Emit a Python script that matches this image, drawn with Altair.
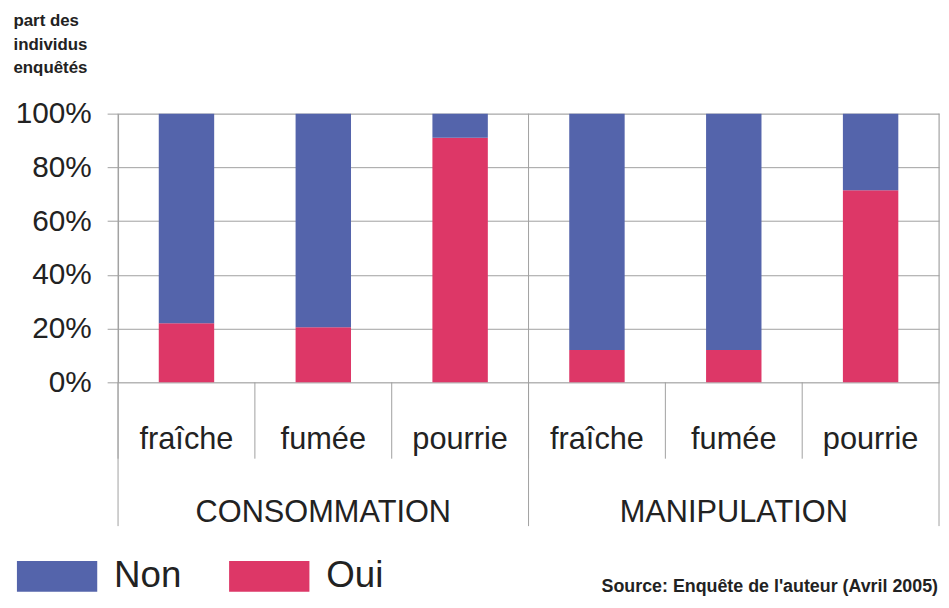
import altair as alt
import pandas as pd

# ---- data ----
groups = ["CONSOMMATION", "MANIPULATION"]
states = ["fraîche", "fumée", "pourrie"]
oui_pct = [22, 20.5, 91, 12, 12, 71.5]
non_pct = [78, 79.5, 9, 88, 88, 28.5]
answers = ["Non", "Oui"]
colors = ["#5464AB", "#DD3767"]
y_ticks = [0, 20, 40, 60, 80, 100]
y_title = ["part des", "individus", "enquêtés"]
source_note = "Source: Enquête de l'auteur (Avril 2005)"

FONT = "Liberation Sans"
TXT = "#222222"
GRID = "#a0a0a0"

keys = [f"{g}|{s}" for g in groups for s in states]
rows = []
for k, o, n in zip(keys, oui_pct, non_pct):
    rows.append({"key": k, "answer": "Oui", "value": o, "ord": 0})
    rows.append({"key": k, "answer": "Non", "value": n, "ord": 1})
df = pd.DataFrame(rows)

W, H = 828, 271
xscale = alt.Scale(domain=keys, paddingInner=0, paddingOuter=0)
x_axis = alt.Axis(
    labelExpr="split(datum.value, '|')[1]", labelAngle=0,
    labelFontSize=31, labelFont=FONT, labelColor=TXT,
    ticks=False, domain=False, labelPadding=58,
    labelBaseline="middle", title=None,
)

bars = alt.Chart(df).mark_bar(width=alt.RelativeBandSize(0.405)).encode(
    x=alt.X("key:N", scale=xscale, sort=keys, axis=x_axis),
    y=alt.Y(
        "value:Q", stack="zero",
        scale=alt.Scale(domain=[0, 100], nice=False),
        axis=alt.Axis(
            values=y_ticks, labelExpr="datum.value + '%'",
            labelFontSize=30, labelFont=FONT, labelColor=TXT, labelPadding=16,
            tickSize=11, tickColor=GRID, domainColor=GRID,
            grid=True, gridColor=GRID,
            title=y_title, titleAngle=0, titleAlign="left", titleBaseline="top",
            titleX=-106, titleY=-102, titleFontSize=17, titleFontWeight="bold",
            titleFont=FONT, titleLineHeight=24, titleColor=TXT,
        ),
    ),
    color=alt.Color(
        "answer:N", scale=alt.Scale(domain=answers, range=colors),
        legend=alt.Legend(
            title=None, orient="none", legendX=-102, legendY=426,
            direction="horizontal",
            symbolType="M-1,-0.383H1V0.383H-1Z", symbolSize=6561,
            symbolStrokeWidth=0, symbolOpacity=1,
            labelFontSize=37, labelFont=FONT, labelColor=TXT,
            labelOffset=17, columnPadding=48, padding=0,
        ),
    ),
    order=alt.Order("ord:Q"),
)

key_df = pd.DataFrame({"key": keys})
group_first = pd.DataFrame({"key": [keys[0], keys[3]]})
group_mid = pd.DataFrame({"key": [keys[1], keys[4]], "label": groups})
last_key = pd.DataFrame({"key": [keys[-1]]})

cat_seps = alt.Chart(key_df).mark_rule(color=GRID, strokeWidth=1).encode(
    x=alt.X("key:N", bandPosition=0, scale=xscale, sort=keys, axis=x_axis),
    y=alt.value(H), y2=alt.value(H + 77),
)
group_seps = alt.Chart(group_first).mark_rule(color=GRID, strokeWidth=1).encode(
    x=alt.X("key:N", bandPosition=0, scale=xscale, sort=keys, axis=x_axis),
    y=alt.value(0), y2=alt.value(H + 145),
)
right_edge = alt.Chart(last_key).mark_rule(color=GRID, strokeWidth=1).encode(
    x=alt.X("key:N", bandPosition=1, scale=xscale, sort=keys, axis=x_axis),
    y=alt.value(0), y2=alt.value(H + 145),
)
group_labels = alt.Chart(group_mid).mark_text(
    fontSize=31, font=FONT, color=TXT, baseline="middle", align="center"
).encode(
    x=alt.X("key:N", scale=xscale, sort=keys, axis=x_axis),
    y=alt.value(403),
    text="label:N",
)
src = alt.Chart(alt.Data(values=[{"t": source_note}])).mark_text(
    fontSize=18, fontWeight="bold", font=FONT, color=TXT,
    align="right", baseline="middle",
).encode(
    x=alt.value(W - 1), y=alt.value(477), text="t:N",
)

chart = alt.layer(bars, cat_seps, group_seps, right_edge, group_labels, src).properties(
    width=W, height=H,
    autosize=alt.AutoSizeParams(type="none"),
    padding={"left": 111, "top": 104, "right": 2, "bottom": 217},
).configure_view(stroke=None).configure(background="white")

chart.save("out.html", embed_options={"renderer": "svg", "actions": False})
